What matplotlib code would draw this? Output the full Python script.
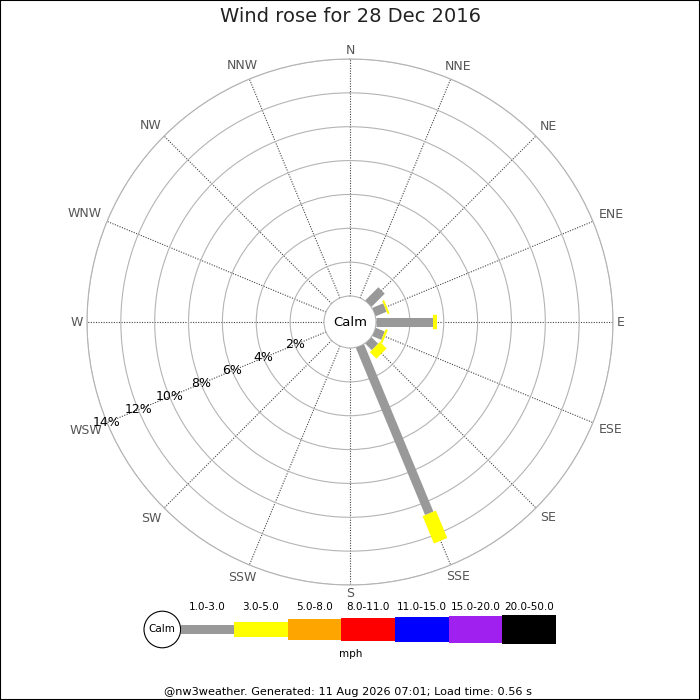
import numpy as np
import matplotlib
matplotlib.use("Agg")
import matplotlib.pyplot as plt
from matplotlib.patches import Rectangle, Circle

TITLE = "Wind rose for 28 Dec 2016"
FOOTER = "@nw3weather. Generated: 11 Aug 2026 07:01; Load time: 0.56 s"

directions = ["N", "NNE", "NE", "ENE", "E", "ESE", "SE", "SSE",
              "S", "SSW", "SW", "WSW", "W", "WNW", "NW", "NNW"]
# % of time per direction, one list per speed band (mph)
pct_1_3 = [0, 0, 1.1, 0.7, 3.37, 0.58, 0.55, 10.7, 0, 0, 0, 0, 0, 0, 0, 0]
pct_3_5 = [0, 0, 0, 0.12, 0.26, 0.13, 0.55, 1.75, 0, 0, 0, 0, 0, 0, 0, 0]

speed_bands = ["1.0-3.0", "3.0-5.0", "5.0-8.0", "8.0-11.0",
               "11.0-15.0", "15.0-20.0", "20.0-50.0"]
band_colors = ["#999999", "#ffff00", "#ffa500", "#ff0000",
               "#0000ff", "#a020f0", "#000000"]
ring_pcts = [2, 4, 6, 8, 10, 12, 14]

# geometry in pixels (700x700 canvas)
CX, CY = 350, 322
R_OUT, R_CALM = 263, 26
RMAX = ring_pcts[-1]

fig = plt.figure(figsize=(7, 7), dpi=100)
fig.patch.set_facecolor("white")

ax = fig.add_axes([(CX - R_OUT) / 700, (700 - CY - R_OUT) / 700,
                   2 * R_OUT / 700, 2 * R_OUT / 700], projection="polar")
ax.set_theta_zero_location("N")
ax.set_theta_direction(-1)
ax.set_rlim(0, RMAX)
ax.set_rorigin(-R_CALM / ((R_OUT - R_CALM) / RMAX))

angles = np.radians(np.arange(16) * 22.5)
ax.set_xticks(angles)
ax.set_xticklabels([])
ax.set_yticks(ring_pcts)
ax.set_yticklabels([])
ax.tick_params(length=0)
ax.yaxis.grid(True, color="#b4b4b4", lw=0.8, ls="-")
ax.xaxis.grid(True, color="#444444", lw=0.8, ls=(0, (1, 1.3)))
for name in ("polar", "inner"):
    if name in ax.spines:
        ax.spines[name].set_color("#b4b4b4")
        ax.spines[name].set_linewidth(0.8)

# stacked rose bars
band_data = [pct_1_3, pct_3_5]
band_lw = [6.5, 10.4]
for i, th in enumerate(angles):
    base = 0.0
    for k, vals in enumerate(band_data):
        v = vals[i]
        if v > 0:
            ax.plot([th, th], [base, base + v], color=band_colors[k],
                    lw=band_lw[k], solid_capstyle="butt", zorder=3 + k)
        base += v

# percentage labels along WSW
wsw = np.radians(247.5)
for r in ring_pcts:
    ax.text(wsw, r, f"{r}%", ha="center", va="center", fontsize=9,
            color="black", zorder=6)

# compass labels, pushed out so their box sits just outside the ring
anns = []
for th, lab in zip(angles, directions):
    a = ax.annotate(lab, xy=(th, RMAX), xycoords="data", xytext=(0, 0),
                    textcoords="offset pixels", ha="center", va="center",
                    fontsize=9, color="#555555", annotation_clip=False)
    anns.append((th, a))
fig.canvas.draw()
rend = fig.canvas.get_renderer()
for th, a in anns:
    bb = a.get_window_extent(rend)
    hw = bb.width / 2
    s, c = np.sin(th), np.cos(th)
    d = 4 + hw * abs(s) + 4.5 * abs(c)
    a.xyann = (s * d + 3 * np.sign(s) * abs(c) * abs(s) * 2, c * d)

# overlay in pixel coordinates for the rest
ov = fig.add_axes([0, 0, 1, 1])
ov.set_xlim(0, 700)
ov.set_ylim(700, 0)
ov.axis("off")

ov.text(CX, CY, "Calm", ha="center", va="center", fontsize=9.5, color="black")
ov.text(350, 17, TITLE, ha="center", va="center", fontsize=14, color="#222222")

# legend
leg_x0, leg_w, leg_y = 180.5, 53.6, 629.5
leg_h = [8.3, 14.3, 20.3, 23, 25, 27, 28.3]
ov.add_patch(Circle((162.3, leg_y), 18.3, facecolor="white",
                    edgecolor="black", lw=0.8))
ov.text(162.3, leg_y, "Calm", ha="center", va="center", fontsize=7.5)
for k, (lab, col) in enumerate(zip(speed_bands, band_colors)):
    x = leg_x0 + k * leg_w
    ov.add_patch(Rectangle((x, leg_y - leg_h[k] / 2), leg_w, leg_h[k],
                           facecolor=col, edgecolor="none"))
    ov.text(x + leg_w / 2, 607, lab, ha="center", va="center", fontsize=7.5)
ov.text(351, 654, "mph", ha="center", va="center", fontsize=7.5)

ov.text(348, 692, FOOTER, ha="center", va="center", fontsize=8.1)

fig.add_artist(Rectangle((0, 0), 1, 1, transform=fig.transFigure,
                         fill=False, edgecolor="black", lw=1.5))

fig.savefig("out.png", dpi=100)
